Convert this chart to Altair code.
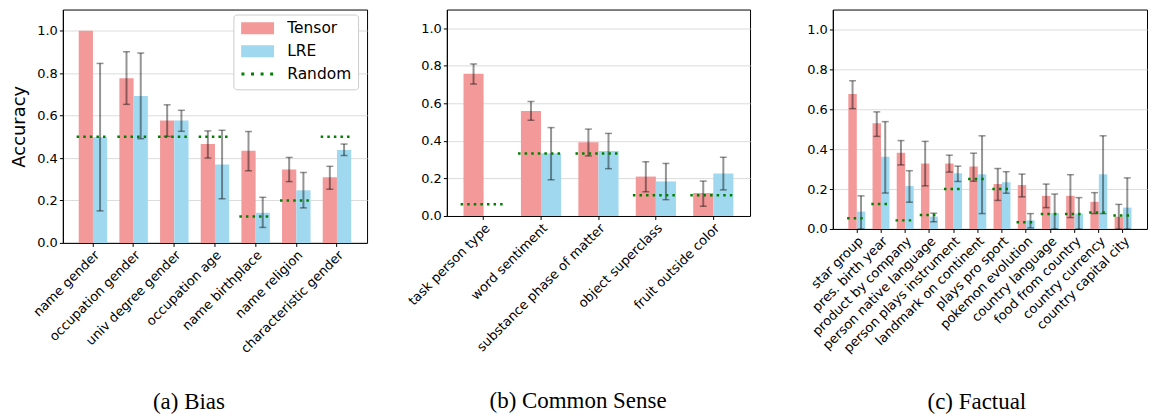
import altair as alt
import pandas as pd

SERIES = ["Tensor", "LRE"]
NAMES = ["Tensor", "LRE", "Random"]
TENSOR_COLOR = "#F39999"
LRE_COLOR = "#9FD8EF"
RANDOM_COLOR = "#008000"

# (a) Bias
bias_cats = ["name gender", "occupation gender", "univ degree gender", "occupation age",
             "name birthplace", "name religion", "characteristic gender"]
bias_tensor = [1.0, 0.776, 0.577, 0.466, 0.434, 0.346, 0.309]
bias_tensor_lo = [None, 0.653, 0.502, 0.400, 0.340, 0.289, 0.253]
bias_tensor_hi = [None, 0.901, 0.651, 0.528, 0.525, 0.403, 0.361]
bias_lre = [0.498, 0.693, 0.577, 0.370, 0.142, 0.248, 0.438]
bias_lre_lo = [0.151, 0.491, 0.526, 0.208, 0.073, 0.165, 0.412]
bias_lre_hi = [0.846, 0.895, 0.625, 0.531, 0.215, 0.332, 0.466]
bias_random = [0.5, 0.5, 0.5, 0.5, 0.125, 0.2, 0.5]

# (b) Common Sense
cs_cats = ["task person type", "word sentiment", "substance phase of matter",
           "object superclass", "fruit outside color"]
cs_tensor = [0.758, 0.560, 0.393, 0.210, 0.122]
cs_tensor_lo = [0.703, 0.510, 0.320, 0.129, 0.052]
cs_tensor_hi = [0.810, 0.610, 0.463, 0.289, 0.186]
cs_lre = [None, 0.334, 0.346, 0.184, 0.226]
cs_lre_lo = [None, 0.193, 0.252, 0.087, 0.139]
cs_lre_hi = [None, 0.471, 0.440, 0.280, 0.313]
cs_random = [0.0625, 0.333, 0.333, 0.111, 0.111]

# (c) Factual
fact_cats = ["star group", "pres. birth year", "product by company", "person native language",
             "person plays instrument", "landmark on continent", "plays pro sport",
             "pokemon evolution", "country language", "food from country",
             "country currency", "country capital city"]
fact_tensor = [0.677, 0.530, 0.382, 0.328, 0.328, 0.313, 0.225, 0.220, 0.166, 0.166, 0.136, 0.061]
fact_tensor_lo = [0.603, 0.464, 0.321, 0.216, 0.285, 0.239, 0.143, 0.161, 0.107, 0.057, 0.077, 0.0]
fact_tensor_hi = [0.743, 0.587, 0.443, 0.439, 0.370, 0.380, 0.303, 0.275, 0.225, 0.272, 0.182, 0.123]
fact_lre = [0.087, 0.362, 0.215, 0.062, 0.279, 0.274, 0.234, 0.043, 0.080, 0.077, 0.274, 0.107]
fact_lre_lo = [0.0, 0.180, 0.134, 0.036, 0.238, 0.077, 0.179, 0.005, 0.0, 0.0, 0.077, 0.0]
fact_lre_hi = [0.166, 0.538, 0.292, 0.079, 0.315, 0.467, 0.287, 0.077, 0.175, 0.157, 0.467, 0.256]
fact_random = [0.054, 0.125, 0.043, 0.070, 0.2, 0.25, 0.2, 0.034, 0.075, 0.075, 0.082, 0.067]

# legend symbols (symbol size 144 -> 1 path unit = 6 px)
RECT_PATH = "M-2.75,-1H2.75V1H-2.75Z"
DOTS_PATH = " ".join(
    f"M{c - 0.25:.2f},-0.25H{c + 0.25:.2f}V0.25H{c - 0.25:.2f}Z" for c in [-2.45, -0.85, 0.75, 2.35]
)


def panel(cats, t, tlo, thi, l, llo, lhi, rnd, width, height, caption, y_title, legend):
    rows = []
    for i, c in enumerate(cats):
        rows.append({"cat": c, "series": "Tensor", "value": t[i], "lo": tlo[i], "hi": thi[i]})
        rows.append({"cat": c, "series": "LRE", "value": l[i], "lo": llo[i], "hi": lhi[i]})
    df = pd.DataFrame(rows)
    rdf = pd.DataFrame({"cat": cats, "random": rnd})
    n = len(cats)
    po = 0.05 * n - 0.11

    xscale = alt.Scale(domain=cats, paddingInner=0, paddingOuter=po)
    xaxis = alt.Axis(title=None, labelAngle=-45, grid=False, labelPadding=2)
    offscale = alt.Scale(domain=SERIES, paddingInner=0, paddingOuter=0.4286)
    yscale = alt.Scale(domain=[0, 1.1], nice=False, zero=True)
    yaxis = alt.Axis(title="Accuracy" if y_title else None, values=[0, 0.2, 0.4, 0.6, 0.8, 1.0],
                     format=".1f", grid=True, gridColor="#dcdcdc", gridWidth=1,
                     titleFontSize=18, titlePadding=8)

    base = alt.Chart(df)
    layers = []
    if legend:
        lg = alt.Legend(
            title=None, orient="none", legendX=171, legendY=5,
            fillColor="white", strokeColor="#cccccc", cornerRadius=3, padding=6,
            labelFont="DejaVu Sans", labelFontSize=15.5, labelColor="black",
            symbolSize=144, symbolStrokeWidth=0, symbolOffset=10.5, labelOffset=22,
            rowPadding=6,
        )
        ldf = pd.DataFrame({"series": NAMES})
        leg = alt.Chart(ldf).mark_point(filled=True, opacity=1, clip=True).encode(
            x=alt.value(-60), y=alt.value(-60),
            color=alt.Color("series:N", scale=alt.Scale(
                domain=NAMES, range=[TENSOR_COLOR, LRE_COLOR, RANDOM_COLOR]), legend=lg),
            shape=alt.Shape("series:N", scale=alt.Scale(
                domain=NAMES, range=[RECT_PATH, RECT_PATH, DOTS_PATH]), legend=lg),
        )
        layers.append(leg)

    for s, col in [("Tensor", TENSOR_COLOR), ("LRE", LRE_COLOR)]:
        layers.append(
            base.transform_filter(alt.datum.series == s).mark_bar(color=col).encode(
                x=alt.X("cat:N", scale=xscale, axis=xaxis),
                xOffset=alt.XOffset("series:N", scale=offscale),
                y=alt.Y("value:Q", scale=yscale, axis=yaxis),
            )
        )
    ebase = base.transform_filter("isValid(datum.lo) && isValid(datum.hi)")
    err = ebase.mark_rule(color="black", opacity=0.42, strokeWidth=2).encode(
        x=alt.X("cat:N"), xOffset=alt.XOffset("series:N"),
        y=alt.Y("lo:Q"), y2=alt.Y2("hi:Q"),
    )
    cap_lo = ebase.mark_tick(color="black", opacity=0.42, size=7, thickness=1.5,
                             orient="horizontal").encode(
        x=alt.X("cat:N"), xOffset=alt.XOffset("series:N"), y=alt.Y("lo:Q"))
    cap_hi = ebase.mark_tick(color="black", opacity=0.42, size=7, thickness=1.5,
                             orient="horizontal").encode(
        x=alt.X("cat:N"), xOffset=alt.XOffset("series:N"), y=alt.Y("hi:Q"))
    rand = alt.Chart(rdf).mark_rule(color=RANDOM_COLOR, strokeWidth=2.5,
                                    strokeDash=[2.5, 4.1], strokeCap="butt").encode(
        x=alt.X("cat:N", bandPosition=0.1),
        x2=alt.X2("cat:N", bandPosition=0.9),
        y=alt.Y("random:Q"),
    )
    layers += [err, cap_lo, cap_hi, rand]
    ch = alt.layer(*layers).properties(
        width=width, height=height,
        title=alt.TitleParams(caption, orient="bottom", anchor="middle", frame="bounds",
                              font="Liberation Serif", fontSize=23, fontWeight="normal",
                              color="black", offset=36),
    )
    return ch


pa = panel(bias_cats, bias_tensor, bias_tensor_lo, bias_tensor_hi, bias_lre, bias_lre_lo,
           bias_lre_hi, bias_random, 305, 234, "(a) Bias", True, True)
pb = panel(cs_cats, cs_tensor, cs_tensor_lo, cs_tensor_hi, cs_lre, cs_lre_lo, cs_lre_hi,
           cs_random, 304, 207, "(b) Common Sense", False, False)
pc = panel(fact_cats, fact_tensor, fact_tensor_lo, fact_tensor_hi, fact_lre, fact_lre_lo,
           fact_lre_hi, fact_random, 315, 220, "(c) Factual", False, False)

inner = alt.hconcat(pa, pb, spacing=37).resolve_scale(x="independent", xOffset="independent")
chart = alt.hconcat(inner, pc, spacing=55).resolve_scale(
    x="independent", xOffset="independent"
).properties(
    padding={"left": 2, "top": 0, "right": 0, "bottom": 0}
).configure_axis(
    labelFont="DejaVu Sans", labelFontSize=13, labelColor="black",
    titleFont="DejaVu Sans", titleFontWeight="normal", titleColor="black",
    tickColor="black", tickSize=3.5, domainColor="black",
).configure_view(stroke="black", strokeWidth=1)

chart.save("out.html", embed_options={"renderer": "svg", "actions": False})
